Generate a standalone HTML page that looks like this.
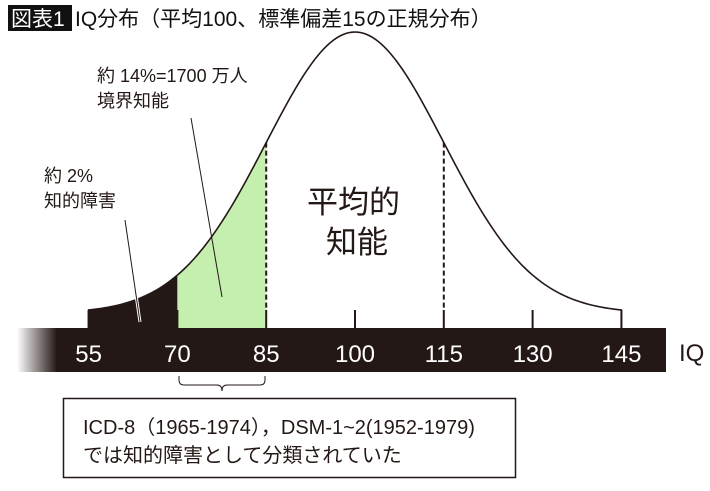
<!DOCTYPE html>
<html><head><meta charset="utf-8"><style>
body{margin:0;background:#fff}
svg text{font-family:"Liberation Sans","Noto Sans CJK JP",sans-serif}
</style></head><body>
<svg id="chart" width="710" height="486" viewBox="0 0 710 486" xmlns="http://www.w3.org/2000/svg">
<defs><linearGradient id="fade" x1="0" x2="1"><stop offset="0" stop-color="#231815" stop-opacity="0"/><stop offset="1" stop-color="#231815"/></linearGradient></defs>
<rect x="8" y="5" width="64" height="26" fill="#111"/>
<text x="11" y="26" font-size="21" fill="#fff">図表1</text>
<text x="75" y="26" font-size="21" fill="#111">IQ分布（平均100、標準偏差15の正規分布）</text>
<g id="fills"></g>
<g id="curve"></g>
<rect x="17" y="328" width="40" height="44" fill="url(#fade)"/>
<rect x="56" y="328" width="610" height="44" fill="#231815"/>
<g id="ticks"></g>
<text x="679" y="361" font-size="24" fill="#231815">IQ</text>
<text x="97" y="82" font-size="18" fill="#231815">約 14%=1700 万人</text>
<text x="97" y="107" font-size="18" fill="#231815">境界知能</text>
<text x="44" y="182" font-size="18" fill="#231815">約 2%</text>
<text x="44" y="207" font-size="18" fill="#231815">知的障害</text>
<text x="307" y="213" font-size="31" fill="#231815">平均的</text>
<text x="326" y="253" font-size="31" fill="#231815">知能</text>
<g id="leaders">
<line x1="191" y1="118" x2="222" y2="297" stroke="#231815" stroke-width="1"/>
<line x1="125" y1="220" x2="140" y2="322" stroke="#fff" stroke-width="3"/>
<line x1="125" y1="220" x2="140" y2="322" stroke="#231815" stroke-width="1"/>
</g>
<path d="M179 376 v4 q0 5 5 5 h33 q5 0 5 6 q0 -6 5 -6 h33 q5 0 5 -5 v-4" fill="none" stroke="#231815" stroke-width="1"/>
<rect x="63.5" y="398.5" width="452" height="79" fill="#fff" stroke="#231815" stroke-width="1.5"/>
<text x="83" y="434" font-size="20" fill="#231815">ICD-8（1965-1974），DSM-1~2(1952-1979)</text>
<text x="83" y="462" font-size="20" fill="#231815">では知的障害として分類されていた</text>
</svg>
<script>
const tickValues=[55,70,85,100,115,130,145];
const tickLabels=["55","70","85","100","115","130","145"];
const meanIQ=100, sdIQ=15;
const regions=[{from:55,to:70,color:"#231815",name:"disability-area"},{from:70,to:85,color:"#c5efae",name:"borderline-area"}];
const dashedAt=[85,115];
const NS="http://www.w3.org/2000/svg";
const xs=v=>355+(v-100)*88.8/15;
const baseY=310, peakY=32, e3=Math.exp(-4.5);
const ys=v=>{const z=(v-meanIQ)/sdIQ;return baseY-(baseY-peakY)*(Math.exp(-z*z/2)-e3)/(1-e3);};
function mk(t,a,p){const el=document.createElementNS(NS,t);for(const k in a)el.setAttribute(k,a[k]);p.appendChild(el);return el;}
const fillsG=document.getElementById('fills');
regions.forEach(r=>{let d=`M${xs(r.from)},328 L${xs(r.from)},${ys(r.from)}`;for(let v=r.from;v<=r.to;v+=0.5)d+=` L${xs(v)},${ys(v)}`;d+=` L${xs(r.to)},328Z`;
const p=mk('path',{d:d,fill:r.color},fillsG);

});
const curveG=document.getElementById('curve');
let cd=`M${xs(55)},328 L${xs(55)},${ys(55)}`;for(let v=55;v<=145;v+=0.5)cd+=` L${xs(v)},${ys(v)}`;cd+=` L${xs(145)},328`;
const cpath=mk('path',{d:cd,fill:"none",stroke:"#231815","stroke-width":1.6},curveG);


dashedAt.forEach(v=>{const l=mk('line',{x1:xs(v),x2:xs(v),y1:ys(v),y2:310,stroke:"#231815","stroke-width":2,"stroke-dasharray":"5,3"},curveG);

});
const ticksG=document.getElementById('ticks');
tickValues.forEach((v,i)=>{const l=mk('line',{x1:xs(v),x2:xs(v),y1:310,y2:328,stroke:"#231815","stroke-width":2},curveG);


const t=mk('text',{x:xs(v),y:362,"text-anchor":"middle","font-size":24,fill:"#fff"},ticksG);t.textContent=tickLabels[i];

});
</script>
</body></html>
